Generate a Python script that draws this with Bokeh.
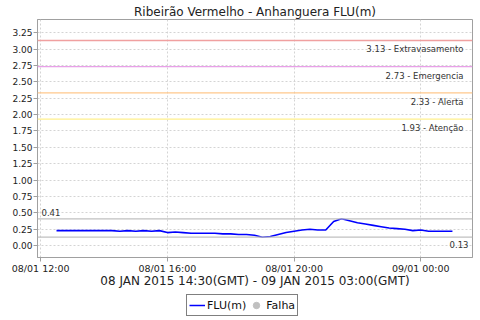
from datetime import datetime
from bokeh.plotting import figure
from bokeh.layouts import column
from bokeh.models import (ColumnDataSource, Span, FixedTicker, DatetimeTickFormatter,
                          NumeralTickFormatter, Legend, LegendItem, Range1d)
from bokeh.core.properties import value
from bokeh.embed import file_html
from bokeh.resources import INLINE

title_text = "Ribeirão Vermelho - Anhanguera FLU(m)"
x_label = "08 JAN 2015 14:30(GMT) - 09 JAN 2015 03:00(GMT)"

times = [
    "2015-01-08 12:30", "2015-01-08 12:45", "2015-01-08 13:00", "2015-01-08 13:15",
    "2015-01-08 13:30", "2015-01-08 13:45", "2015-01-08 14:00", "2015-01-08 14:15",
    "2015-01-08 14:30", "2015-01-08 14:45", "2015-01-08 15:00", "2015-01-08 15:15",
    "2015-01-08 15:30", "2015-01-08 15:45", "2015-01-08 16:00", "2015-01-08 16:15",
    "2015-01-08 16:30", "2015-01-08 16:45", "2015-01-08 17:00", "2015-01-08 17:15",
    "2015-01-08 17:30", "2015-01-08 17:45", "2015-01-08 18:00", "2015-01-08 18:15",
    "2015-01-08 18:30", "2015-01-08 18:45", "2015-01-08 19:00", "2015-01-08 19:15",
    "2015-01-08 19:30", "2015-01-08 19:45", "2015-01-08 20:00", "2015-01-08 20:15",
    "2015-01-08 20:30", "2015-01-08 20:45", "2015-01-08 21:00", "2015-01-08 21:15",
    "2015-01-08 21:30", "2015-01-08 21:45", "2015-01-08 22:00", "2015-01-08 22:15",
    "2015-01-08 22:30", "2015-01-08 22:45", "2015-01-08 23:00", "2015-01-08 23:15",
    "2015-01-08 23:30", "2015-01-08 23:45", "2015-01-09 00:00", "2015-01-09 00:15",
    "2015-01-09 00:30", "2015-01-09 00:45", "2015-01-09 01:00",
]
flu = [
    0.23, 0.23, 0.23, 0.23, 0.23, 0.23, 0.23, 0.23,
    0.22, 0.23, 0.22, 0.23, 0.22, 0.23, 0.20, 0.21,
    0.20, 0.19, 0.19, 0.19, 0.19, 0.18, 0.18, 0.17,
    0.17, 0.16, 0.13, 0.14, 0.17, 0.20, 0.22, 0.24,
    0.25, 0.24, 0.24, 0.37, 0.41, 0.38, 0.35, 0.33,
    0.31, 0.29, 0.27, 0.26, 0.25, 0.23, 0.24, 0.22,
    0.22, 0.22, 0.22,
]

threshold_values = [3.13, 2.73, 2.33, 1.93]
threshold_names = ["Extravasamento", "Emergencia", "Alerta", "Atenção"]
threshold_colors = ["#f0a0a0", "#e8a0e8", "#ffc88c", "#fff08c"]

legend_labels = ["FLU(m)", "Falha"]
legend_colors = ["#0000ff", "#c0c0c0"]

x_ticks = ["2015-01-08 12:00", "2015-01-08 16:00", "2015-01-08 20:00", "2015-01-09 00:00"]
y_ticks = [0.0, 0.25, 0.5, 0.75, 1.0, 1.25, 1.5, 1.75, 2.0, 2.25, 2.5, 2.75, 3.0, 3.25]
x_start_str, x_end_str = "2015-01-08 11:54", "2015-01-09 01:38"
y_start, y_end = -0.18, 3.45

fmt = "%Y-%m-%d %H:%M"
def ms(s):
    return (datetime.strptime(s, fmt) - datetime(1970, 1, 1)).total_seconds() * 1000.0

t = [datetime.strptime(s, fmt) for s in times]
x_start, x_end = ms(x_start_str), ms(x_end_str)

p = figure(width=480, height=292, x_axis_type="datetime", output_backend="svg",
           toolbar_location=None, x_range=Range1d(x_start, x_end),
           y_range=Range1d(y_start, y_end),
           min_border_left=37, min_border_right=8, min_border_top=19, min_border_bottom=35)
p.background_fill_color = "white"
p.border_fill_color = "white"
p.outline_line_color = "#a0a0a0"

p.title.text = title_text
p.title.align = "center"
p.title.text_font = "DejaVu Sans"
p.title.text_font_size = "12px"
p.title.text_font_style = "normal"
p.title.text_color = "#222222"
p.title.standoff = 1

for g in (p.xgrid, p.ygrid):
    g.grid_line_color = "#d4d4d4"
    g.grid_line_dash = "2 2"
    g.grid_line_width = 1

xa, ya = p.xaxis[0], p.yaxis[0]
xa.ticker = FixedTicker(ticks=[ms(s) for s in x_ticks])
xa.formatter = DatetimeTickFormatter(
    minutes="%d/%m %H:%M", hourmin="%d/%m %H:%M", hours="%d/%m %H:%M",
    days="%d/%m %H:%M", months="%d/%m %H:%M", years="%d/%m %H:%M")
ya.ticker = FixedTicker(ticks=y_ticks)
ya.formatter = NumeralTickFormatter(format="0.00")
xa.axis_label = x_label
xa.axis_label_text_font = "DejaVu Sans"
xa.axis_label_text_font_size = "12px"
xa.axis_label_text_font_style = "normal"
xa.axis_label_text_color = "#222222"
xa.axis_label_standoff = -3
for a, fs in ((xa, "9.5px"), (ya, "9px")):
    a.axis_line_color = "#a0a0a0"
    a.major_tick_line_color = "#a0a0a0"
    a.minor_tick_line_color = None
    a.major_tick_in = 0
    a.major_tick_out = 4
    a.major_label_text_font = "DejaVu Sans"
    a.major_label_text_font_size = fs
    a.major_label_text_color = "#222222"
    a.major_label_standoff = 1

for v, c in zip(threshold_values, threshold_colors):
    p.add_layout(Span(location=v, dimension="width", line_color=c, line_width=1.3))

th_src = ColumnDataSource(dict(
    x=[x_end] * len(threshold_values), y=threshold_values,
    text=[f"{v:.2f} - {n}" for v, n in zip(threshold_values, threshold_names)]))
p.text(x="x", y="y", text="text", source=th_src, text_align="right",
       text_baseline="top", x_offset=-9, y_offset=4, text_font=value("DejaVu Sans"),
       text_font_size="8.5px", text_color="#333333")

vmax, vmin = max(flu), min(flu)
for v in (vmax, vmin):
    p.add_layout(Span(location=v, dimension="width", line_color="#c0c0c0", line_width=1.3))
p.text(x=[x_start], y=[vmax], text=[f"{vmax:.2f}"], text_align="left",
       text_baseline="bottom", x_offset=4, y_offset=-3, text_font=value("DejaVu Sans"),
       text_font_size="8.5px", text_color="#333333")
p.text(x=[x_end], y=[vmin], text=[f"{vmin:.2f}"], text_align="right",
       text_baseline="top", x_offset=-4, y_offset=4, text_font=value("DejaVu Sans"),
       text_font_size="8.5px", text_color="#333333")

src = ColumnDataSource(dict(t=t, v=flu))
p.line("t", "v", source=src, line_color=legend_colors[0], line_width=1.6)

# legend strip below the chart
lg = figure(width=480, height=28, output_backend="svg", toolbar_location=None,
            x_axis_location=None, y_axis_location=None,
            x_range=Range1d(0, 1), y_range=Range1d(0, 1),
            min_border_left=0, min_border_right=0, min_border_top=0, min_border_bottom=0)
lg.outline_line_color = None
lg.xgrid.visible = False
lg.ygrid.visible = False
lg.background_fill_color = "white"
lg.border_fill_color = "white"
nan_src = ColumnDataSource(dict(x=[float("nan")], y=[float("nan")]))
r_line = lg.line("x", "y", source=nan_src, line_color=legend_colors[0], line_width=1.5)
r_dot = lg.scatter("x", "y", source=nan_src, marker="circle", size=7,
                   fill_color=legend_colors[1], line_color=legend_colors[1])
legend = Legend(items=[LegendItem(label=legend_labels[0], renderers=[r_line]),
                       LegendItem(label=legend_labels[1], renderers=[r_dot])],
                orientation="horizontal", location=(149, 4))
legend.border_line_color = "black"
legend.border_line_width = 1
legend.background_fill_color = "white"
legend.label_text_font = "DejaVu Sans"
legend.label_text_font_size = "11px"
legend.label_text_color = "#111111"
legend.glyph_width = 16
legend.glyph_height = 16
legend.label_standoff = 2
legend.spacing = 2
legend.padding = 2
legend.margin = 0
lg.add_layout(legend)

layout = column(p, lg, spacing=0)
open("out.html", "w").write(file_html(layout, INLINE))
